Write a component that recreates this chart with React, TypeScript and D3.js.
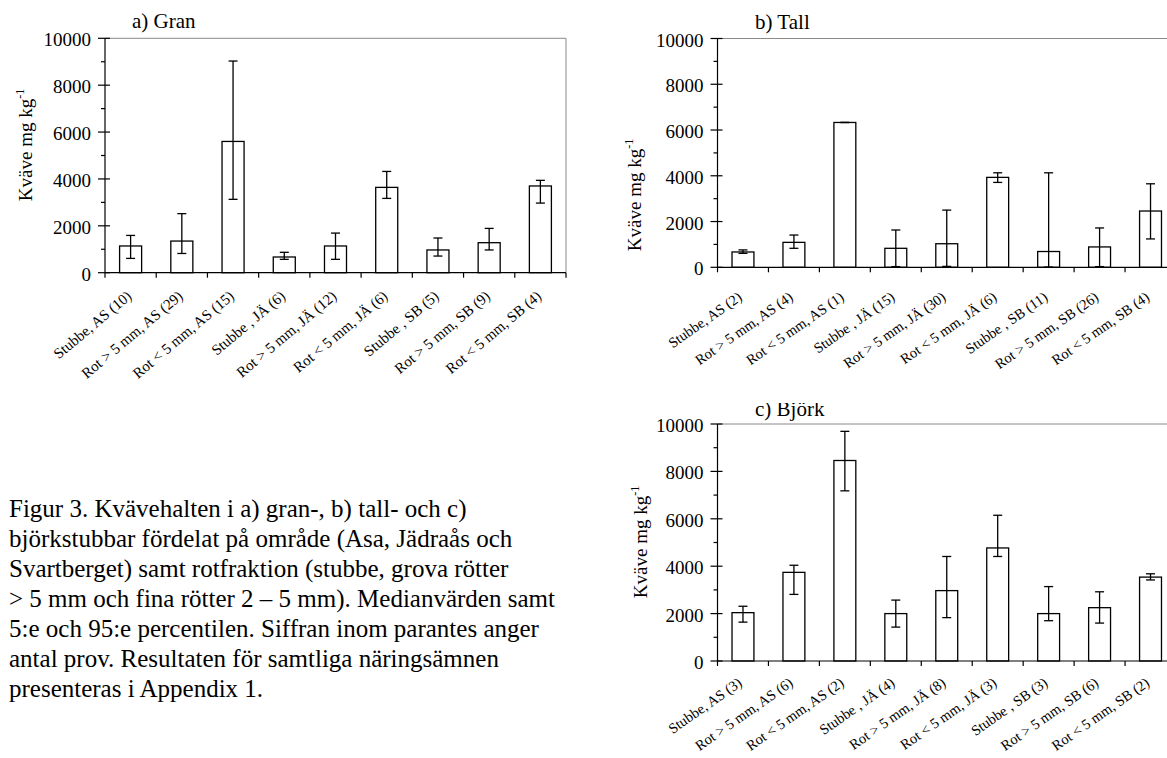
import React from 'react';
import * as d3 from 'd3';

const W = 1167;
const H = 758;
const FONT = '"Liberation Serif", "Times New Roman", serif';

// a) Gran
const catsGran = ['Stubbe, AS (10)', 'Rot > 5 mm, AS (29)', 'Rot < 5 mm, AS (15)', 'Stubbe , JÄ (6)', 'Rot > 5 mm, JÄ (12)', 'Rot < 5 mm, JÄ (6)', 'Stubbe , SB (5)', 'Rot > 5 mm, SB (9)', 'Rot < 5 mm, SB (4)'];
const medGran = [1140, 1350, 5600, 670, 1140, 3640, 970, 1280, 3700];
const p5Gran = [610, 820, 3130, 570, 570, 3170, 710, 970, 2970];
const p95Gran = [1590, 2520, 9030, 870, 1690, 4320, 1480, 1890, 3940];

// b) Tall
const catsTall = ['Stubbe, AS (2)', 'Rot > 5 mm, AS (4)', 'Rot < 5 mm, AS (1)', 'Stubbe , JÄ (15)', 'Rot > 5 mm, JÄ (30)', 'Rot < 5 mm, JÄ (6)', 'Stubbe , SB (11)', 'Rot > 5 mm, SB (26)', 'Rot < 5 mm, SB (4)'];
const medTall = [670, 1090, 6330, 830, 1030, 3930, 690, 890, 2460];
const p5Tall = [610, 830, 6330, 30, 40, 3710, 10, 30, 1240];
const p95Tall = [760, 1410, 6330, 1630, 2500, 4130, 4130, 1720, 3650];

// c) Björk
const catsBjork = ['Stubbe, AS (3)', 'Rot > 5 mm, AS (6)', 'Rot < 5 mm, AS (2)', 'Stubbe , JÄ (4)', 'Rot > 5 mm, JÄ (8)', 'Rot < 5 mm, JÄ (3)', 'Stubbe , SB (3)', 'Rot > 5 mm, SB (6)', 'Rot < 5 mm, SB (2)'];
const medBjork = [2040, 3740, 8460, 2000, 2970, 4770, 2000, 2250, 3540];
const p5Bjork = [1640, 2810, 7180, 1430, 1830, 4410, 1700, 1600, 3420];
const p95Bjork = [2310, 4040, 9690, 2570, 4410, 6150, 3140, 2920, 3680];

const yMajor = [0, 2000, 4000, 6000, 8000, 10000];
const yMinor = [1000, 3000, 5000, 7000, 9000];

const caption = [
  'Figur 3. Kvävehalten i a) gran-, b) tall- och c)',
  'björkstubbar fördelat på område (Asa, Jädraås och',
  'Svartberget) samt rotfraktion (stubbe, grova rötter',
  '> 5 mm och fina rötter 2 – 5 mm). Medianvärden samt',
  '5:e och 95:e percentilen. Siffran inom parantes anger',
  'antal prov. Resultaten för samtliga näringsämnen',
  'presenteras i Appendix 1.',
];

type PanelProps = {
  id: string;
  title: string;
  cats: string[];
  med: number[];
  lo: number[];
  hi: number[];
  box: { left: number; right: number; top: number; bottom: number };
  titlePos: [number, number];
  ylabPos: [number, number];
  angle: number;
  labSize: number;
  labOff: [number, number];
  clipTop?: number;
};

function Panel(p: PanelProps) {
  const { left, right, top, bottom } = p.box;
  const x = d3.scaleBand<string>().domain(p.cats).range([left, right]).padding(0);
  const y = d3.scaleLinear().domain([0, 10000]).range([bottom, top]);
  const bw = x.bandwidth() * 0.43;
  const cap = 4.5;
  const step = x.step();

  return (
    <g style={{ fontFamily: FONT }} fill="#000">
      {p.clipTop != null && (
        <clipPath id={`clip-${p.id}`}>
          <rect x={left} y={p.clipTop} width={300} height={60} />
        </clipPath>
      )}
      <text
        x={p.titlePos[0]} y={p.titlePos[1]} fontSize={21}
        clipPath={p.clipTop != null ? `url(#clip-${p.id})` : undefined}
      >{p.title}</text>

      {/* plot frame (top + right) */}
      <line x1={left} x2={right} y1={top} y2={top} stroke="#8a8a8a" strokeWidth={1} />
      <line x1={right} x2={right} y1={top} y2={bottom} stroke="#8a8a8a" strokeWidth={1} />

      {/* bars */}
      {p.cats.map((c, i) => {
        const cx = x(c)! + x.bandwidth() / 2;
        return (
          <rect key={c} x={cx - bw / 2} y={y(p.med[i])} width={bw} height={bottom - y(p.med[i])}
            fill="#fff" stroke="#000" strokeWidth={1.3} />
        );
      })}

      {/* error bars: 5th and 95th percentile */}
      {p.cats.map((c, i) => {
        const cx = x(c)! + x.bandwidth() / 2;
        return (
          <g key={c} stroke="#000" strokeWidth={1.3}>
            <line x1={cx} x2={cx} y1={y(p.lo[i])} y2={y(p.hi[i])} />
            <line x1={cx - cap} x2={cx + cap} y1={y(p.hi[i])} y2={y(p.hi[i])} />
            <line x1={cx - cap} x2={cx + cap} y1={y(p.lo[i])} y2={y(p.lo[i])} />
          </g>
        );
      })}

      {/* y axis */}
      <line x1={left} x2={left} y1={top} y2={bottom} stroke="#000" strokeWidth={1.2} />
      {yMajor.map((v) => (
        <g key={v}>
          <line x1={left - 7} x2={left + 5} y1={y(v)} y2={y(v)} stroke="#000" strokeWidth={1.2} />
          <text x={left - 14} y={y(v) + 8} fontSize={19} textAnchor="end">{v}</text>
        </g>
      ))}
      {yMinor.map((v) => (
        <line key={v} x1={left - 4} x2={left} y1={y(v)} y2={y(v)} stroke="#000" strokeWidth={1.2} />
      ))}

      {/* x axis */}
      <line x1={left} x2={right} y1={bottom} y2={bottom} stroke="#000" strokeWidth={1.2} />
      {d3.range(p.cats.length + 1).map((i) => (
        <line key={i} x1={left + i * step} x2={left + i * step} y1={bottom} y2={bottom + 5}
          stroke="#000" strokeWidth={1.2} />
      ))}
      {p.cats.map((c) => {
        const cx = x(c)! + x.bandwidth() / 2 + p.labOff[0];
        const ty = bottom + p.labOff[1];
        return (
          <text key={c} x={cx} y={ty} fontSize={p.labSize} textAnchor="end"
            transform={`rotate(${-p.angle},${cx},${ty})`}>{c}</text>
        );
      })}

      {/* y label */}
      <text x={p.ylabPos[0]} y={p.ylabPos[1]} fontSize={19} textAnchor="middle"
        transform={`rotate(-90,${p.ylabPos[0]},${p.ylabPos[1]})`}>
        Kväve mg kg<tspan fontSize={12} dy={-8}>-1</tspan>
      </text>
    </g>
  );
}

export default function App() {
  return (
    <div style={{ position: 'fixed', left: 0, top: 0, width: W, height: H, background: '#fff' }}>
      <svg width={W} height={H} style={{ display: 'block' }}>
        <rect width={W} height={H} fill="#fff" />
        <Panel id="a" title="a) Gran" cats={catsGran} med={medGran} lo={p5Gran} hi={p95Gran}
          box={{ left: 105, right: 566, top: 38.3, bottom: 272.7 }}
          titlePos={[132, 28]} ylabPos={[32, 145]} angle={40} labSize={15} labOff={[2, 25]} />
        <Panel id="b" title="b) Tall" cats={catsTall} med={medTall} lo={p5Tall} hi={p95Tall}
          box={{ left: 717.5, right: 1176, top: 38.5, bottom: 267.3 }}
          titlePos={[755, 29]} ylabPos={[641, 195]} angle={35} labSize={14.5} labOff={[0, 32]} />
        <Panel id="c" title="c) Björk" cats={catsBjork} med={medBjork} lo={p5Bjork} hi={p95Bjork}
          box={{ left: 717.5, right: 1176, top: 424, bottom: 661 }}
          titlePos={[755, 416]} ylabPos={[647, 542]} angle={35} labSize={14.5} labOff={[0, 24]} clipTop={403} />
        <g style={{ fontFamily: FONT }} fontSize={25}>
          {caption.map((t, i) => (
            <text key={i} x={9} y={517 + i * 30}>{t}</text>
          ))}
        </g>
      </svg>
    </div>
  );
}
